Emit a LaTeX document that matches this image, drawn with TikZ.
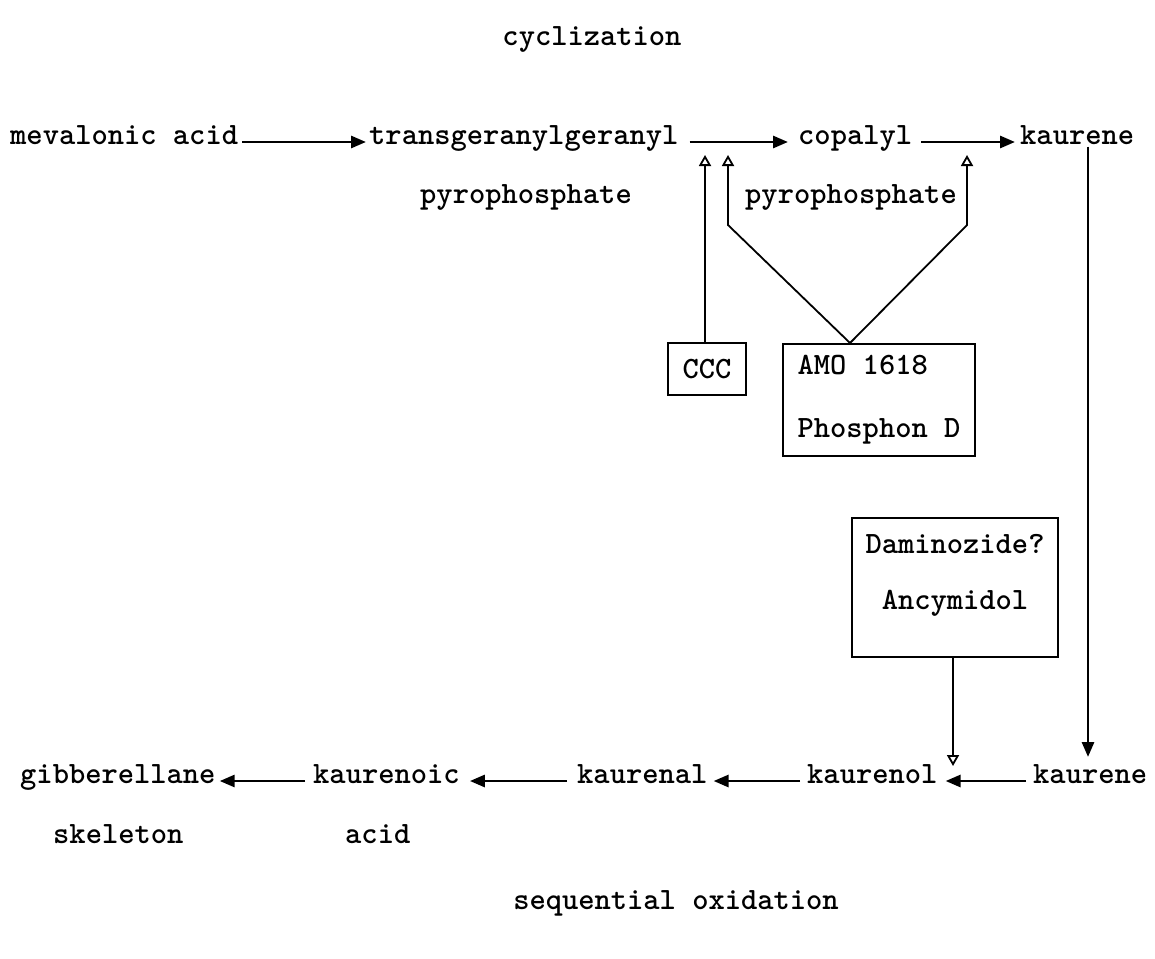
\documentclass[tikz,border=0pt]{standalone}
\usetikzlibrary{arrows.meta,calc}
\begin{document}
\begin{tikzpicture}[x=1pt,y=-1pt,
  fnt/.style={font=\fontsize{31}{37}\selectfont\ttfamily\bfseries},
  txt/.style={fnt, inner xsep=0pt, inner ysep=2pt, anchor=mid west},
  flow/.style={line width=2.8pt, -{Triangle[length=15pt,width=12pt]}},
  inhib/.style={line width=1.8pt, -{Triangle[open,length=11pt,width=12pt,line width=1.8pt]}},
  boxx/.style={draw, line width=2pt, fnt, inner sep=0pt}]
\useasboundingbox (0,0) rectangle (1155,958);
% top row
\node[txt, anchor=mid] (cyc) at (592,43) {cyclization};
\node[txt] (mev) at (10,142) {mevalonic acid};
\node[txt] (tgg) at (369,142) {transgeranylgeranyl};
\node[txt] (cop) at (798,142) {copalyl};
\node[txt] (kauA) at (1020,142) {kaurene};
\node[txt] (pyA) at (420,201) {pyrophosphate};
\node[txt] (pyB) at (745,201) {pyrophosphate};
% boxes
\node[boxx, minimum width=78pt, minimum height=52pt] (ccc) at (707,369) {CCC};
\node[boxx, minimum width=192pt, minimum height=112pt, align=left] (amo) at (879,400) {AMO 1618\\[26pt]Phosphon D};
\node[boxx, minimum width=206pt, minimum height=139pt] (dam) at (955,587.5) {};
\node[txt, anchor=mid] (damA) at (955,551) {Daminozide?};
\node[txt, anchor=mid] (damB) at (955,607) {Ancymidol};
% bottom row
\node[txt] (gib) at (20,781) {gibberellane};
\node[txt] (kacid) at (313,781) {kaurenoic};
\node[txt] (kal) at (577,781) {kaurenal};
\node[txt] (kol) at (807,781) {kaurenol};
\node[txt] (kauB) at (1033,781) {kaurene};
\node[txt] (skel) at (53,841) {skeleton};
\node[txt] (acid) at (345,841) {acid};
\node[txt, anchor=mid] (seq) at (676,907) {sequential oxidation};
% coordinates
\coordinate (apex) at (850,343);
\coordinate (kA) at (728,225);
\coordinate (kB) at (967,225);
\coordinate (tA) at (705,155);
\coordinate (tB) at (728,155);
\coordinate (tC) at (967,155);
\coordinate (tD) at (953,766);
\coordinate (vB) at (1088,757);
% connectors
\draw[flow, shorten <=4pt, shorten >=3pt] (mev.mid east) -- (tgg.mid west);
\draw[flow, shorten <=11pt, shorten >=10pt] (tgg.mid east) -- (cop.mid west);
\draw[flow, shorten <=9pt, shorten >=5pt] (cop.mid east) -- (kauA.mid west);
\draw[flow] (kauA.south -| vB) -- (vB);
\draw[flow, shorten <=7pt, shorten >=8pt] (kauB.mid west) -- (kol.mid east);
\draw[flow, shorten <=7pt, shorten >=6pt] (kol.mid west) -- (kal.mid east);
\draw[flow, shorten <=10pt, shorten >=10pt] (kal.mid west) -- (kacid.mid east);
\draw[flow, shorten <=8pt, shorten >=4pt] (kacid.mid west) -- (gib.mid east);
\draw[inhib] (ccc.north -| tA) -- (tA);
\draw[inhib] (apex) -- (kA) -- (tB);
\draw[inhib] (apex) -- (kB) -- (tC);
\draw[inhib] (dam.south -| tD) -- (tD);
\end{tikzpicture}
\end{document}
